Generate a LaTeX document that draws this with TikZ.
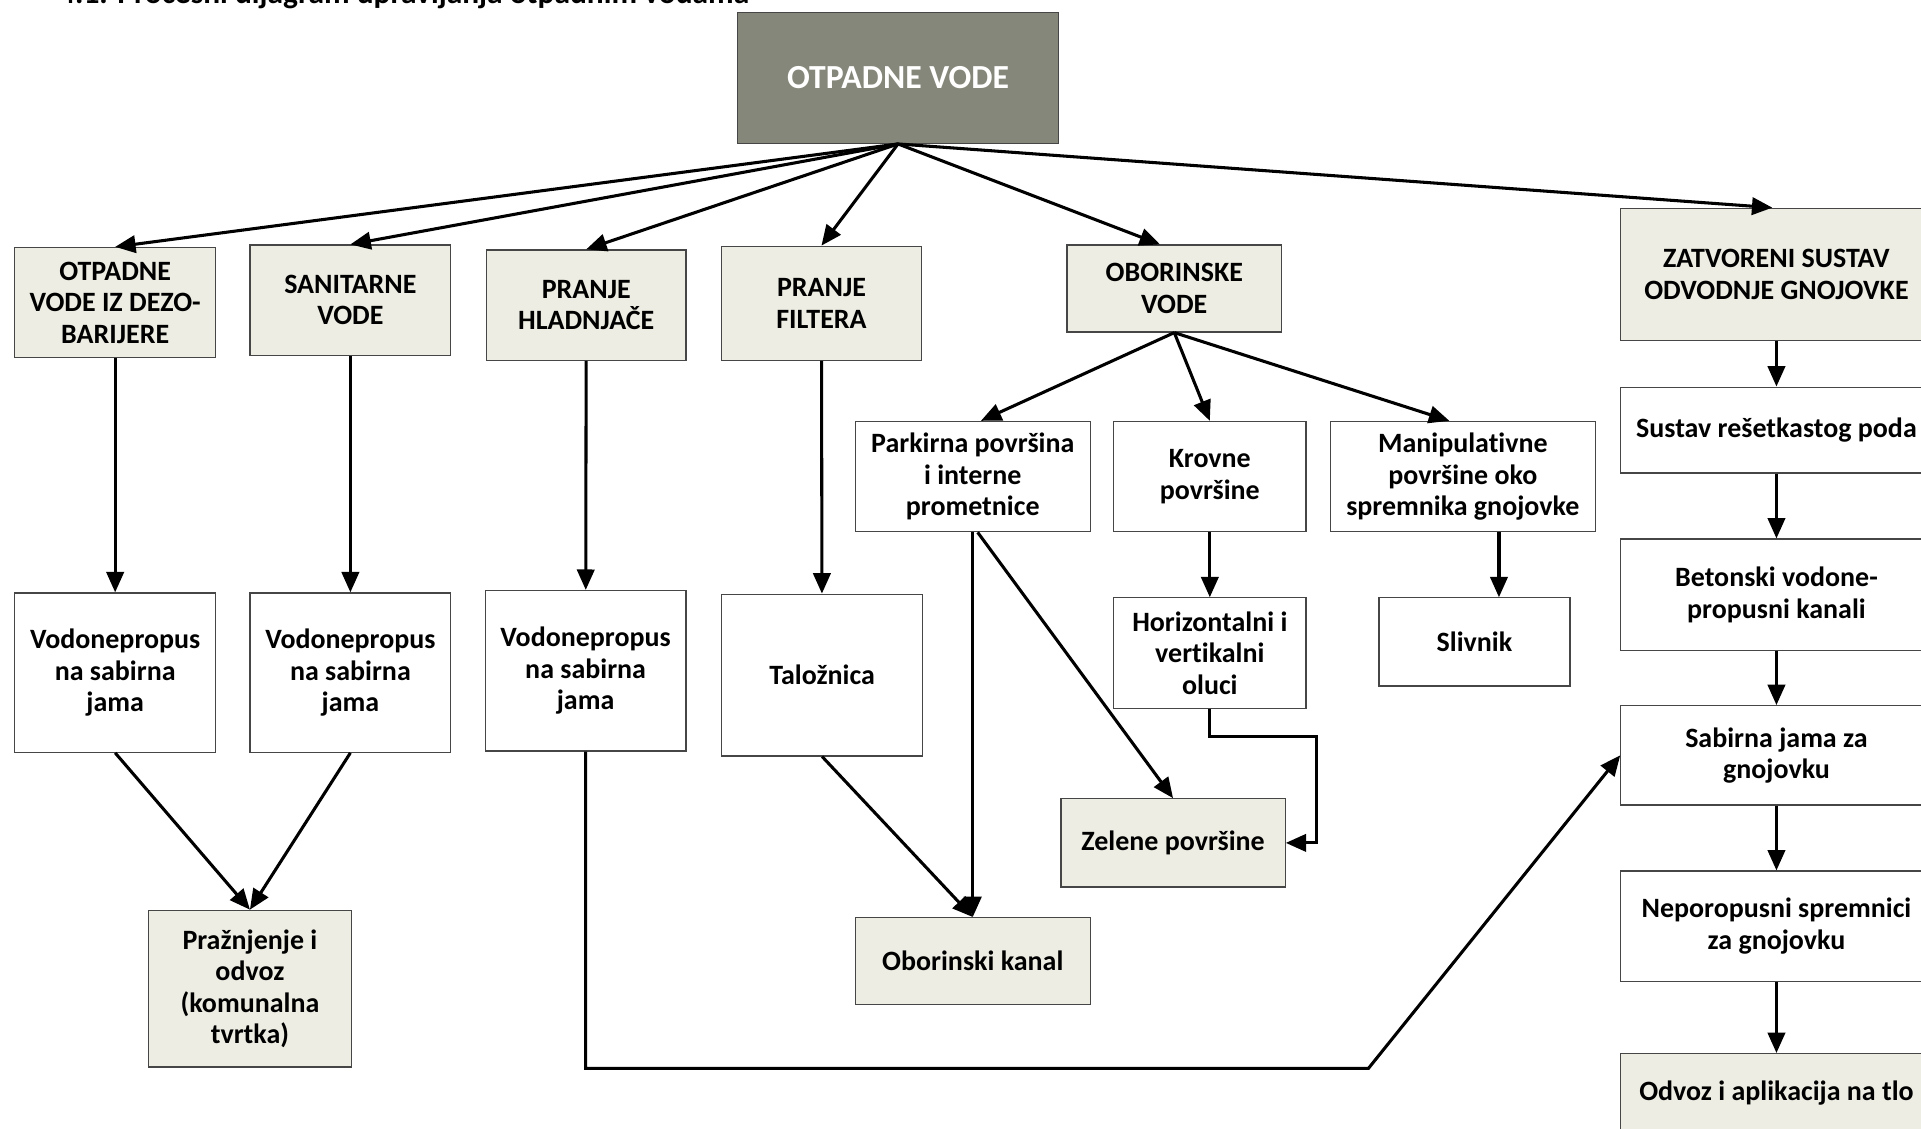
\documentclass[tikz,border=0pt]{standalone}
\usepackage{fontspec}
\setmainfont{Carlito}[Ligatures=NoCommon]
\usetikzlibrary{arrows.meta}
\definecolor{topgray}{RGB}{133,135,122}
\definecolor{beige}{RGB}{237,237,227}
\definecolor{edge}{RGB}{70,70,70}
\begin{document}
\begin{tikzpicture}[x=0.6pt,y=-0.6pt,
	box/.style={draw=edge,line width=0.6pt,align=center,inner sep=2pt,
		font=\fontsize{13.7}{15.4}\selectfont\bfseries},
	hbox/.style={box,fill=beige},
	wbox/.style={box,fill=white},
	arr/.style={line width=1.5pt,-{Triangle[length=10pt,width=8.5pt]}}]
	\useasboundingbox (0,0) rectangle (1568,921);
	
	\node[anchor=base west,inner sep=0pt,
	font=\fontsize{15.4}{17}\selectfont\bfseries] (title) at (48,2.5) {4.1. Procesni dijagram upravljanja otpadnim vodama};
	
	\node[box,fill=topgray,text=white,
	font=\fontsize{16.5}{18}\selectfont\bfseries,
	minimum width=157.2pt,minimum height=64.2pt] (ov) at (733,63.5) {OTPADNE VODE};
	
	% first row
	\node[hbox,minimum width=98.4pt,minimum height=54pt] (dezo) at (94,247) {OTPADNE\\VODE IZ DEZO-\\BARIJERE};
	\node[hbox,minimum width=98.4pt,minimum height=54pt] (sanit) at (286,245) {SANITARNE\\VODE};
	\node[hbox,minimum width=97.8pt,minimum height=54pt] (hlad) at (478.5,249) {PRANJE\\HLADNJAČE};
	\node[hbox,minimum width=97.8pt,minimum height=55.8pt] (filt) at (670.5,247.5) {PRANJE\\FILTERA};
	\node[hbox,minimum width=105pt,minimum height=42.6pt] (obor) at (958.5,235.5) {OBORINSKE\\VODE};
	\node[hbox,minimum width=152.4pt,minimum height=64.8pt] (zatv) at (1450,224) {ZATVORENI SUSTAV\\ODVODNJE GNOJOVKE};
	
	% oborinske vode
	\node[wbox,minimum width=115.2pt,minimum height=54pt] (park) at (794,389) {Parkirna površina\\i interne\\prometnice};
	\node[wbox,minimum width=94.2pt,minimum height=54pt] (krov) at (987.5,389) {Krovne\\površine};
	\node[wbox,minimum width=129.6pt,minimum height=54pt] (manip) at (1194,389) {Manipulativne\\površine oko\\spremnika gnojovke};
	\node[wbox,minimum width=94.2pt,minimum height=54pt] (oluci) at (987.5,533) {Horizontalni i\\vertikalni\\oluci};
	\node[wbox,minimum width=93.6pt,minimum height=43.2pt] (sliv) at (1203.5,524) {Slivnik};
	\node[hbox,minimum width=109.8pt,minimum height=43.2pt] (zelene) at (957.5,688) {Zelene površine};
	\node[hbox,minimum width=115.2pt,minimum height=42.6pt] (kanal) at (794,784.5) {Oborinski kanal};
	
	% sabirne jame
	\node[wbox,minimum width=98.4pt,minimum height=78pt] (jama1) at (94,549) {Vodonepropus\\na sabirna\\jama};
	\node[wbox,minimum width=98.4pt,minimum height=78pt] (jama2) at (286,549) {Vodonepropus\\na sabirna\\jama};
	\node[wbox,minimum width=98.4pt,minimum height=78.6pt] (jama3) at (478,547.5) {Vodonepropus\\na sabirna\\jama};
	\node[wbox,minimum width=98.4pt,minimum height=79.2pt] (talo) at (671,551) {Taložnica};
	\node[hbox,minimum width=99.6pt,minimum height=76.8pt] (odvoz) at (204,807) {Pražnjenje i\\odvoz\\(komunalna\\tvrtka)};
	
	% gnojovka
	\node[wbox,minimum width=152.4pt,minimum height=42pt] (poda) at (1450,351) {Sustav rešetkastog poda};
	\node[wbox,minimum width=152.4pt,minimum height=54.6pt] (kanali) at (1450,485.5) {Betonski vodone-\\propusni kanali};
	\node[wbox,minimum width=152.4pt,minimum height=48.6pt] (sabir) at (1450,616.5) {Sabirna jama za\\gnojovku};
	\node[wbox,minimum width=152.4pt,minimum height=54pt] (sprem) at (1450,756) {Neporopusni spremnici\\za gnojovku};
	\node[hbox,minimum width=152.4pt,minimum height=39pt] (tlo) at (1450,892.5) {Odvoz i aplikacija na tlo};
	
	% connectors
	\draw[arr] (ov.south) -- (dezo.north);
	\draw[arr] (ov.south) -- (sanit.north);
	\draw[arr] (ov.south) -- (hlad.north);
	\draw[arr] (ov.south) -- (filt.north);
	\draw[arr] (ov.south) -- ([xshift=-7pt]obor.north);
	\draw[arr] (ov.south) -- ([xshift=-2pt]zatv.north);
	
	\draw[arr] (obor.south) -- ([xshift=4pt]park.north);
	\draw[arr] (obor.south) -- (krov.north);
	\draw[arr] (obor.south) -- ([xshift=-6.6pt]manip.north);
	
	\draw[arr] (dezo) -- (jama1);
	\draw[arr] (sanit) -- (jama2);
	\draw[arr] (hlad) -- (jama3);
	\draw[arr] (filt) -- (talo);
	\draw[arr] (krov) -- (oluci);
	\draw[arr] ([xshift=12pt]sliv.north |- manip.south) -- ([xshift=12pt]sliv.north);
	
	\draw[arr] (jama1.south) -- (odvoz.north);
	\draw[arr] (jama2.south) -- (odvoz.north);
	\draw[arr] (talo.south) -- (kanal.north);
	\draw[arr] (park.south) -- (kanal.north);
	\draw[arr] ([xshift=2.4pt]park.south) -- (zelene.north);
	\draw[arr] (oluci.south) -- ++(0,23) -| ([xshift=15pt]zelene.east) -- (zelene.east);
	
	\coordinate (bend) at (1117,872);
	\draw[arr] (jama3.south) |- (bend) -- (sabir.west);
	
	\draw[arr] (zatv) -- (poda);
	\draw[arr] (poda) -- (kanali);
	\draw[arr] (kanali) -- (sabir);
	\draw[arr] (sabir) -- (sprem);
	\draw[arr] (sprem) -- (tlo);
\end{tikzpicture}
\end{document}
